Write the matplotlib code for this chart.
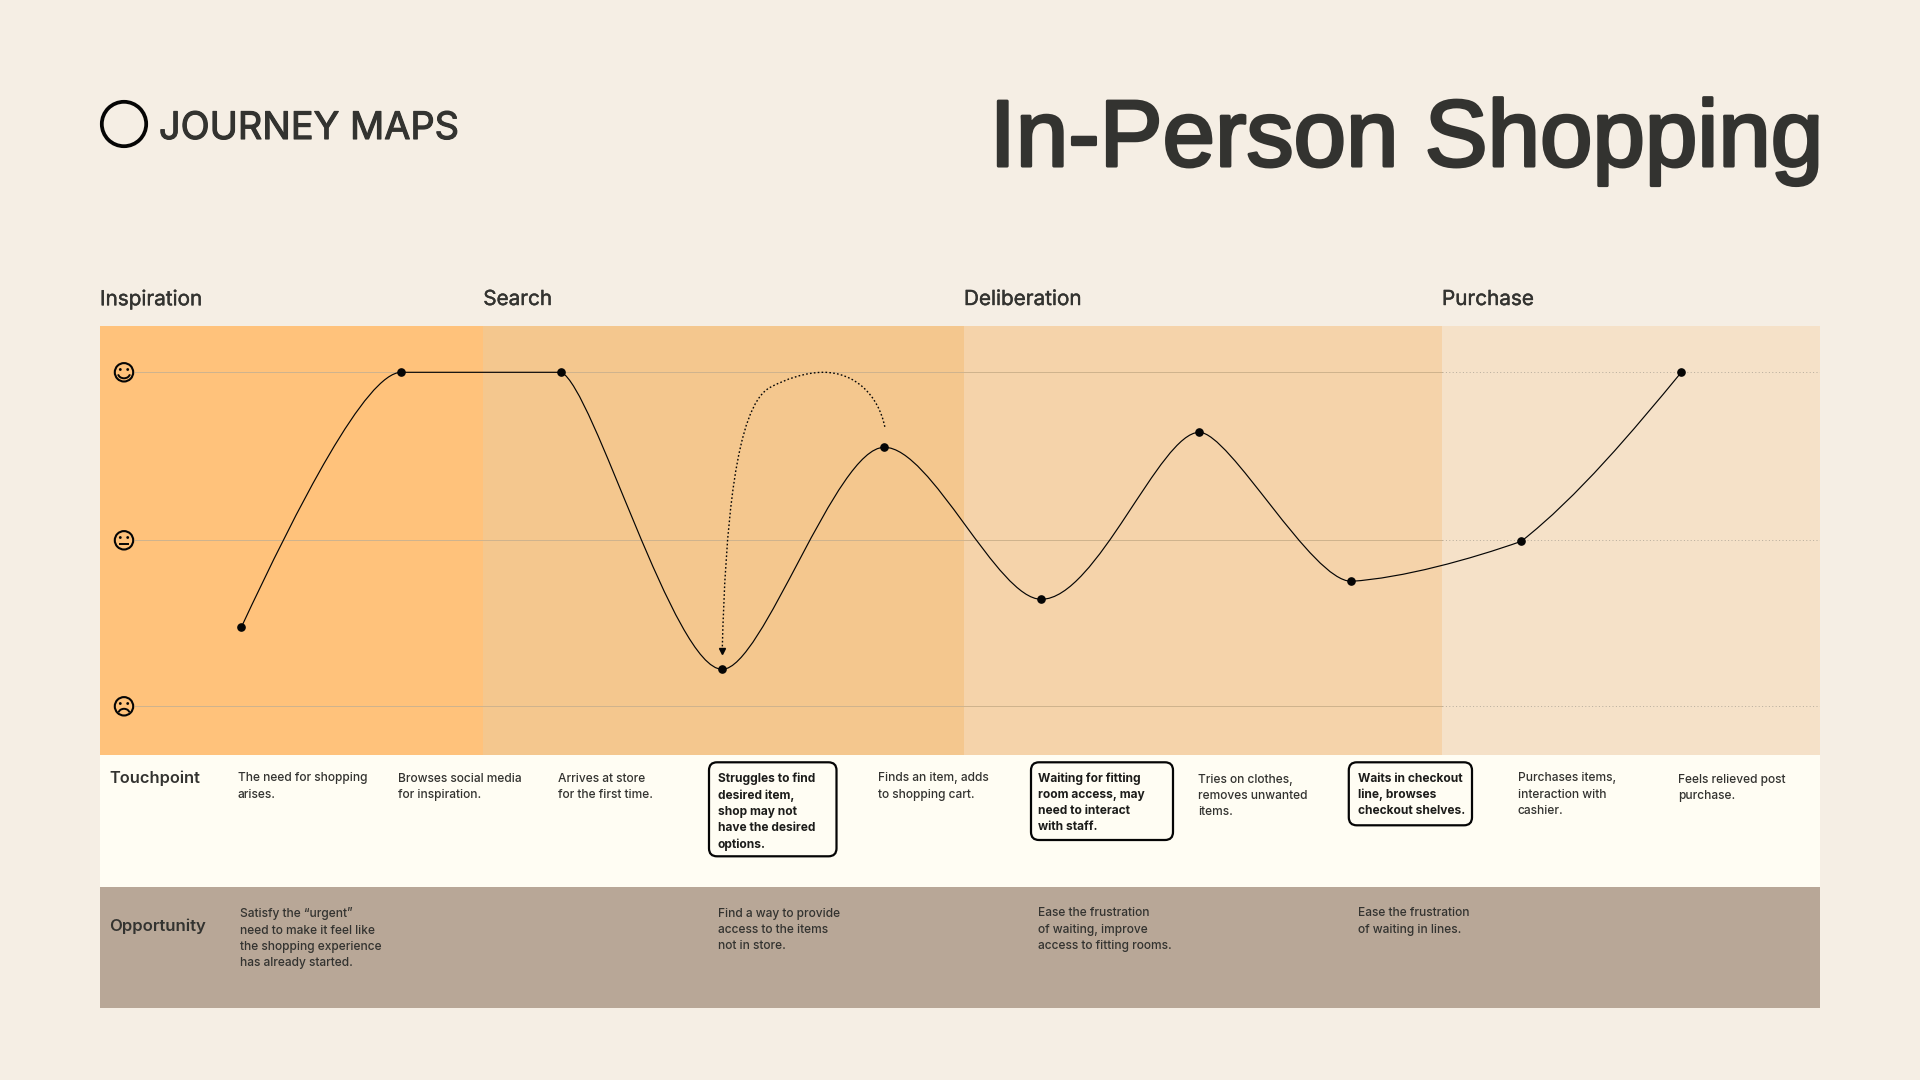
import numpy as np
import matplotlib
matplotlib.use("Agg")
import matplotlib.pyplot as plt
import matplotlib.patheffects as pe
from matplotlib.patches import Rectangle, Circle, FancyBboxPatch, PathPatch, Arc
from matplotlib.path import Path

plt.rcParams['font.family'] = ['Inter', 'DejaVu Sans']

# Journey data: x is position along the journey, y is mood score (sad = 0, neutral = 166, happy = 334)
journey_x = [0, 160, 320, 481, 643, 800, 958, 1110, 1280, 1440]
journey_y = [79, 334, 334, 37, 259, 107, 274, 125, 165, 334]
mood_levels = [334, 166, 0]
mood_faces = ["happy", "neutral", "sad"]

# The dotted detour from the "adds to cart" step back to the "struggles" step
detour_x = [643.5, 637, 614, 582, 564, 544, 529, 494, 484, 481]
detour_y = [279.5, 311, 334, 334, 334, 327, 319, 301, 176, 58]

stage_names = ["Inspiration", "Search", "Deliberation", "Purchase"]
stage_edges = [100, 483.3, 964, 1442, 1820]
stage_colors = ["#FFC27B", "#F4C78E", "#F5D3AA", "#F5E1C8"]

touchpoints = [
    "The need for shopping\narises.",
    "Browses social media\nfor inspiration.",
    "Arrives at store\nfor the first time.",
    "Struggles to find\ndesired item,\nshop may not\nhave the desired\noptions.",
    "Finds an item, adds\nto shopping cart.",
    "Waiting for fitting\nroom access, may\nneed to interact\nwith staff.",
    "Tries on clothes,\nremoves unwanted\nitems.",
    "Waits in checkout\nline, browses\ncheckout shelves.",
    "Purchases items,\ninteraction with\ncashier.",
    "Feels relieved post\npurchase.",
]
touch_x = [238, 398, 558, 718, 878, 1038, 1198, 1358, 1518, 1678]
touch_y = [772.5, 772.5, 772.5, 772.5, 772.5, 772.5, 773.5, 772.5, 772.5, 773.5]
highlighted = [3, 5, 7]
highlight_boxes = [(709, 762.3, 127.5, 94), (1031, 762.3, 142, 77.7), (1348.8, 762.3, 123.2, 63)]

opportunities = [
    "Satisfy the \u201curgent\u201d\nneed to make it feel like\nthe shopping experience\nhas already started.",
    "Find a way to provide\naccess to the items\nnot in store.",
    "Ease the frustration\nof waiting, improve\naccess to fitting rooms.",
    "Ease the frustration\nof waiting in lines.",
]
opportunity_x = [240, 718, 1038, 1358]

# Shape of each curve segment, as bezier handles relative to the segment (x1, y1, x2, y2)
segment_shapes = [
    (0.35, 0.47, 0.78, 1.00),
    (0.33, 0.00, 0.67, 1.00),
    (0.20, 0.05, 0.70, 1.00),
    (0.25, 0.00, 0.70, 1.00),
    (0.30, 0.00, 0.72, 1.00),
    (0.35, 0.00, 0.75, 1.00),
    (0.20, 0.00, 0.74, 1.00),
    (0.30, 0.08, 0.70, 0.55),
    (0.35, 0.26, 0.70, 0.655),
]

ink = "#333330"
black = "#050505"
grid_color = "#CFB38D"
W, H = 1920, 1080
panel_top, panel_bottom = 326, 755
first_x, sad_y = 241.3, 706.3   # where journey x=0 and mood 0 sit on the page

fig = plt.figure(figsize=(W / 100, H / 100), dpi=100, facecolor="#F5EEE4")

# Page axes in pixels, for the blocks and the text
page = fig.add_axes([0, 0, 1, 1])
page.set_xlim(0, W)
page.set_ylim(H, 0)
page.axis("off")

# a thin stroke in the text colour stands in for the medium weight
def heavier(width):
    return [pe.withStroke(linewidth=width, foreground=ink)]

for i in range(4):
    page.add_patch(Rectangle((stage_edges[i], panel_top), stage_edges[i + 1] - stage_edges[i],
                             panel_bottom - panel_top, fc=stage_colors[i], ec="none"))
    page.text(stage_edges[i], 299, stage_names[i], fontsize=14.9, color=ink, va="center",
              path_effects=heavier(0.3))

page.add_patch(Rectangle((100, 755), 1720, 132, fc="#FFFDF3", ec="none"))
page.add_patch(Rectangle((100, 887), 1720, 121, fc="#B8A797", ec="none"))

# Header
page.add_patch(Circle((124, 124), 22.2, fc="none", ec=black, lw=2.7))
page.text(159, 139, "JOURNEY MAPS", fontsize=27.3, color=ink, va="baseline", path_effects=heavier(0.8))
page.text(1823, 166, "In-Person Shopping", fontsize=67.9, color=ink, va="baseline", ha="right",
          family="Liberation Sans", path_effects=heavier(2.2))

# Row labels
page.text(109, 778, "Touchpoint", fontsize=11.8, color=ink, fontweight="semibold", va="center")
page.text(109, 926, "Opportunity", fontsize=12, color=ink, fontweight="semibold", va="center")

for i, txt in enumerate(touchpoints):
    page.text(touch_x[i], touch_y[i], txt, fontsize=8.6, color="#1c1c1a" if i in highlighted else ink,
              fontweight="bold" if i in highlighted else "medium", va="top", linespacing=1.45)
for box in highlight_boxes:
    page.add_patch(FancyBboxPatch((box[0], box[1]), box[2], box[3], boxstyle="round,pad=0,rounding_size=8",
                                  fc="none", ec=black, lw=1.6))
for i, txt in enumerate(opportunities):
    page.text(opportunity_x[i], 907.5, txt, fontsize=8.6, color=ink, fontweight="medium", va="top", linespacing=1.45)

# Chart axes laid exactly over the coloured panel
chart = fig.add_axes([100 / W, 1 - panel_bottom / H, 1720 / W, (panel_bottom - panel_top) / H])
chart.set_xlim(100 - first_x, 1820 - first_x)
chart.set_ylim(sad_y - panel_bottom, sad_y - panel_top)
chart.axis("off")
chart.patch.set_alpha(0)

for level in mood_levels:
    chart.plot([135 - first_x, 1442 - first_x], [level, level], color=grid_color, lw=0.72, zorder=1)
    chart.plot([1442 - first_x, 1820 - first_x], [level, level], color="#B9AE9E", lw=0.72, ls=(0, (1, 2.4)), zorder=1)

# Journey curve, one bezier per pair of steps
verts = [(journey_x[0], journey_y[0])]
codes = [Path.MOVETO]
for i, (a, b, c, d) in enumerate(segment_shapes):
    dx = journey_x[i + 1] - journey_x[i]
    dy = journey_y[i + 1] - journey_y[i]
    verts += [(journey_x[i] + a * dx, journey_y[i] + b * dy),
              (journey_x[i] + c * dx, journey_y[i] + d * dy),
              (journey_x[i + 1], journey_y[i + 1])]
    codes += [Path.CURVE4] * 3
chart.add_patch(PathPatch(Path(verts, codes), fc="none", ec=black, lw=0.85, zorder=3))
chart.plot(journey_x, journey_y, ls="none", marker="o", ms=5.2, color=black, zorder=4)

# Dotted detour with a small arrow head
codes = [Path.MOVETO] + [Path.CURVE4] * 9
chart.add_patch(PathPatch(Path(list(zip(detour_x, detour_y)), codes), fc="none", ec=black, lw=1.0,
                          ls=(0, (1.2, 1.6)), zorder=3))
chart.plot([481], [55.5], ls="none", marker="v", ms=3.8, color=black, zorder=3)

# Mood faces on the left of the grid lines
for level, face in zip(mood_levels, mood_faces):
    cy = sad_y - level
    cx = 124
    page.add_patch(Circle((cx, cy), 9.2, fc="none", ec=black, lw=1.5, zorder=5))
    page.add_patch(Circle((cx - 3.7, cy - 2.8), 1.4, fc=black, ec="none", zorder=5))
    page.add_patch(Circle((cx + 3.7, cy - 2.8), 1.4, fc=black, ec="none", zorder=5))
    if face == "happy":
        page.add_patch(Arc((cx, cy + 1), 12, 10, theta1=10, theta2=170, ec=black, lw=1.4, zorder=5))
    elif face == "neutral":
        page.plot([cx - 3.8, cx + 3.8], [cy + 3.6, cy + 3.6], color=black, lw=1.4, zorder=5)
    else:
        page.add_patch(Arc((cx, cy + 7), 11, 9, theta1=190, theta2=350, ec=black, lw=1.4, zorder=5))

fig.savefig("out.png", dpi=100, facecolor=fig.get_facecolor())
